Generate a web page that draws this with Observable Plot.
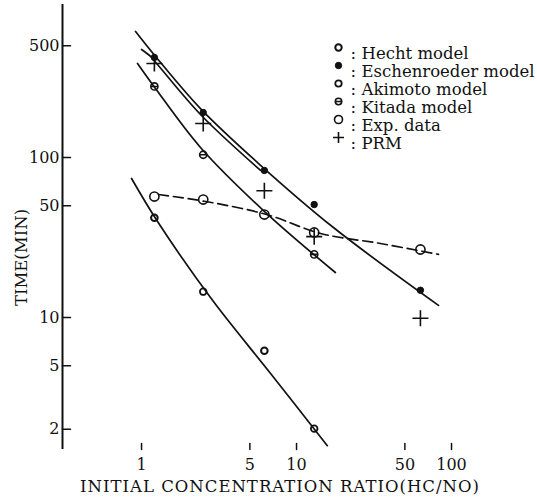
<!DOCTYPE html>
<html><head><meta charset="utf-8">
<script src="https://cdn.jsdelivr.net/npm/d3@7"></script>
<script src="https://cdn.jsdelivr.net/npm/@observablehq/plot@0.6"></script>
<style>
body{margin:0;background:#fff}
text[aria-label="xlabel"], g[aria-label="xlabel"] text {letter-spacing:1px}
</style></head><body><div id="chart"></div>
<script>
// tick values
const xTicks = [1, 5, 10, 50, 100];
const yTicks = [2, 5, 10, 50, 100, 500];

// model / measurement points  [ratio, time]
const hechtPts       = [[1.21, 42], [6.2, 6.2]];
const akimotoPts     = [[2.5, 14.5], [13, 2.02]];
const kitadaPts      = [[1.21, 278], [2.5, 104], [13, 24.8]];
const eschenPts      = [[1.21, 422], [2.5, 191], [6.2, 83], [13, 50.8], [63, 14.8]];
const expPts         = [[1.21, 57], [2.5, 54.6], [6.2, 44], [13, 34], [63, 26.6]];
const prmPts         = [[1.21, 387], [2.5, 163], [6.2, 62], [13, 32], [63, 9.9]];

// fitted curves
const fitLow    = [[0.862, 73.9], [1.268, 39.8], [2.87, 12.8], [6.8, 4.47], [15.8, 1.58]];
const fitMid    = [[0.942, 387], [1.23, 270], [2.40, 115.5], [6.12, 46.6], [17.8, 19.1]];
const fitDash   = [[1.287, 58.7], [2.59, 53.1], [6.41, 44.0], [14.3, 33.5], [34.8, 29.0], [82.4, 24.8]];
const fitTopA   = [[0.915, 613], [1.231, 428], [2.40, 202], [5.69, 91.7], [17.3, 36.5], [82.4, 11.9]];
const fitTopB   = [[1.0, 473], [1.143, 428], [1.268, 381], [2.40, 185.6], [5.86, 83]];

// legend
const legendLabels = ["Hecht model", "Eschenroeder model", "Akimoto model", "Kitada model", "Exp. data", "PRM"];

const xDomain = [0.309, 156.1];
const yDomain = [1.496, 904];
const ink = "#111";
const font = "DejaVu Serif";

const kitadaSym = {draw(ctx, size) {
  const r = Math.sqrt(size / Math.PI);
  ctx.moveTo(r, 0); ctx.arc(0, 0, r, 0, 2 * Math.PI);
  ctx.moveTo(-r, 0); ctx.lineTo(r, 0);
}};
const plusSym = {draw(ctx, size) {
  const r = Math.sqrt(size / Math.PI);
  ctx.moveTo(-r, 0); ctx.lineTo(r, 0);
  ctx.moveTo(0, -r); ctx.lineTo(0, r);
}};
const tickShape = {draw(ctx, l) { ctx.moveTo(0, 0); ctx.lineTo(0, -l); }};

const styles = [
  {symbol: "circle", r: 3.3, fill: "none", stroke: ink, strokeWidth: 2},
  {symbol: "circle", r: 3.2, fill: ink, stroke: ink, strokeWidth: 1},
  {symbol: "circle", r: 3.3, fill: "none", stroke: ink, strokeWidth: 1.8},
  {symbol: kitadaSym, r: 3.6, fill: "none", stroke: ink, strokeWidth: 1.6},
  {symbol: "circle", r: 4.6, fill: "none", stroke: ink, strokeWidth: 1.6},
  {symbol: plusSym, r: 8, fill: "none", stroke: ink, strokeWidth: 1.6}
];
const seriesPts = [hechtPts, eschenPts, akimotoPts, kitadaPts, expPts, prmPts];

const lineOpts = {x: d => d[0], y: d => d[1], curve: "catmull-rom", stroke: ink, strokeWidth: 1.7};

const marks = [
  Plot.line(fitLow, lineOpts),
  Plot.line(fitMid, lineOpts),
  Plot.line(fitDash, {...lineOpts, strokeDasharray: "10,5"}),
  Plot.line(fitTopA, lineOpts),
  Plot.line(fitTopB, lineOpts),
  ...seriesPts.map((pts, i) => Plot.dot(pts, {x: d => d[0], y: d => d[1], ...styles[i]})),
  Plot.ruleX([xDomain[0]], {stroke: ink, strokeWidth: 2}),
  Plot.ruleY([yDomain[0]], {stroke: ink, strokeWidth: 2, x1: 0.295}),
  // y ticks (inward) and labels
  Plot.vector(yTicks, {x: xDomain[0], y: d => d, length: 8, rotate: 90, anchor: "start", shape: tickShape, stroke: ink, strokeWidth: 1.5}),
  Plot.text(yTicks, {x: xDomain[0], y: d => d, text: d => String(d), textAnchor: "end", dx: -3, fontSize: 16, fill: ink}),
  // x ticks (inward) and labels
  Plot.vector(xTicks, {x: d => d, y: yDomain[0], length: 6, anchor: "start", shape: tickShape, stroke: ink, strokeWidth: 1.5}),
  Plot.text(xTicks, {x: d => d, y: yDomain[0], text: d => String(d), lineAnchor: "top", dy: 9, fontSize: 16, fill: ink}),
  Plot.text(["INITIAL CONCENTRATION RATIO(HC/NO)"], {frameAnchor: "bottom", dx: 8, dy: 42, fontSize: 16.5, fill: ink, ariaLabel: () => "xlabel"}),
  Plot.text(["TIME(MIN)"], {frameAnchor: "top-left", textAnchor: "middle", rotate: -90, dx: -47, dy: 253, fontSize: 16.5, fill: ink})
];

legendLabels.forEach((lab, i) => {
  const rowY = 47 + 18 * i;
  marks.push(Plot.dot([0], {frameAnchor: "top-left", dx: 338 - 62, dy: rowY - 4, ...styles[i], r: i === 5 ? 5.5 : (i === 4 ? 4 : 3.2)}));
  marks.push(Plot.text([":"], {frameAnchor: "top-left", dx: 350 - 62, dy: rowY - 4, fontSize: 16.5, fill: ink}));
  marks.push(Plot.text([lab], {frameAnchor: "top-left", dx: 361 - 62, dy: rowY - 4, textAnchor: "start", fontSize: 16.5, fill: ink}));
});

const chart = Plot.plot({
  width: 537, height: 501,
  marginLeft: 62, marginRight: 56, marginTop: 4, marginBottom: 52,
  x: {type: "log", domain: xDomain, axis: null},
  y: {type: "log", domain: yDomain, axis: null},
  style: {fontFamily: font, fontSize: "16px", background: "#fff", color: ink},
  marks
});
document.getElementById("chart").appendChild(chart);
</script></body></html>
